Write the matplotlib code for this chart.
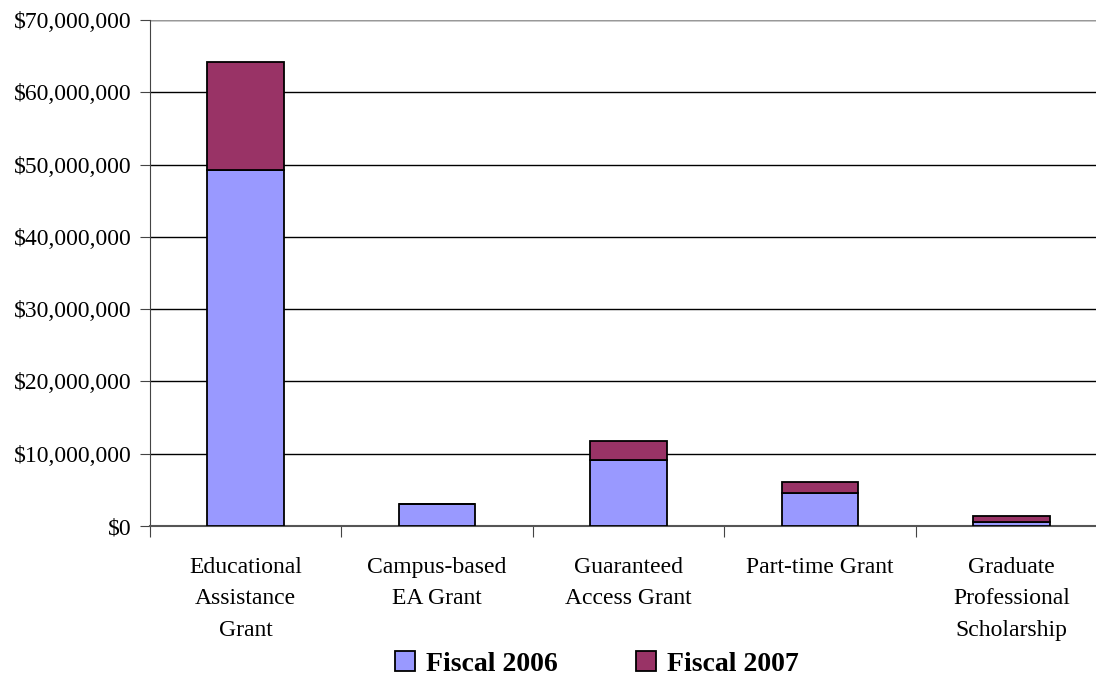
import matplotlib
matplotlib.use("Agg")
import matplotlib.pyplot as plt
from matplotlib.ticker import FuncFormatter, FixedLocator
import numpy as np

categories = ["Educational\nAssistance\nGrant", "Campus-based\nEA Grant",
              "Guaranteed\nAccess Grant", "Part-time Grant",
              "Graduate\nProfessional\nScholarship"]
fiscal_2006 = [49.3e6, 3.0e6, 9.1e6, 4.6e6, 0.5e6]
fiscal_2007 = [14.9e6, 0.0, 2.6e6, 1.5e6, 0.9e6]
series_names = ["Fiscal 2006", "Fiscal 2007"]
colors = ["#9999FF", "#993366"]

plt.rcParams['font.family'] = ['Liberation Serif', 'DejaVu Serif']

fig = plt.figure(figsize=(10.96, 6.79), dpi=100)
ax = fig.add_axes([150/1096, 153/679, 957/1096, 506/679])

x = np.arange(len(categories))
b1 = ax.bar(x, fiscal_2006, width=0.4, color=colors[0], edgecolor='black', linewidth=1.3, zorder=3, label=series_names[0])
b2 = ax.bar(x, fiscal_2007, bottom=fiscal_2006, width=0.4, color=colors[1], edgecolor='black', linewidth=1.3, zorder=3, label=series_names[1])

ax.set_xlim(-0.5, len(categories) - 0.5)
ax.set_ylim(0, 70e6)
ax.yaxis.set_major_locator(FixedLocator(np.arange(0, 70e6 + 1, 10e6)))
ax.yaxis.set_major_formatter(FuncFormatter(lambda v, p: "${:,.0f}".format(v)))
ax.grid(axis='y', color='black', linewidth=1.0, zorder=1)

ax.set_xticks(x)
ax.set_xticklabels(categories, fontsize=17, linespacing=1.68, va='top')
ax.tick_params(axis='x', which='major', length=0, pad=22)
ax.set_xticks(np.arange(-0.5, len(categories), 1.0), minor=True)
ax.tick_params(axis='x', which='minor', length=8, width=0.8, color='#444444', direction='out')
ax.tick_params(axis='y', length=7, width=0.8, color='#444444', labelsize=17, pad=6)

for s in ['top', 'right']:
    ax.spines[s].set_visible(False)
ax.spines['left'].set_color('#444444')
ax.spines['bottom'].set_color('#555555')
ax.spines['bottom'].set_linewidth(1.5)
ax.axhline(70e6, color='#999999', linewidth=1.5, zorder=2)

leg = fig.legend(handles=[b1, b2], labels=series_names, loc='center', bbox_to_anchor=(597/1096, 1 - 664/679),
                 ncol=2, frameon=False, prop={'weight': 'bold', 'size': 20},
                 handlelength=0.72, handleheight=0.72, handletextpad=0.4, columnspacing=2.8,
                 borderaxespad=0, borderpad=0)

fig.savefig("out.png", dpi=100)
